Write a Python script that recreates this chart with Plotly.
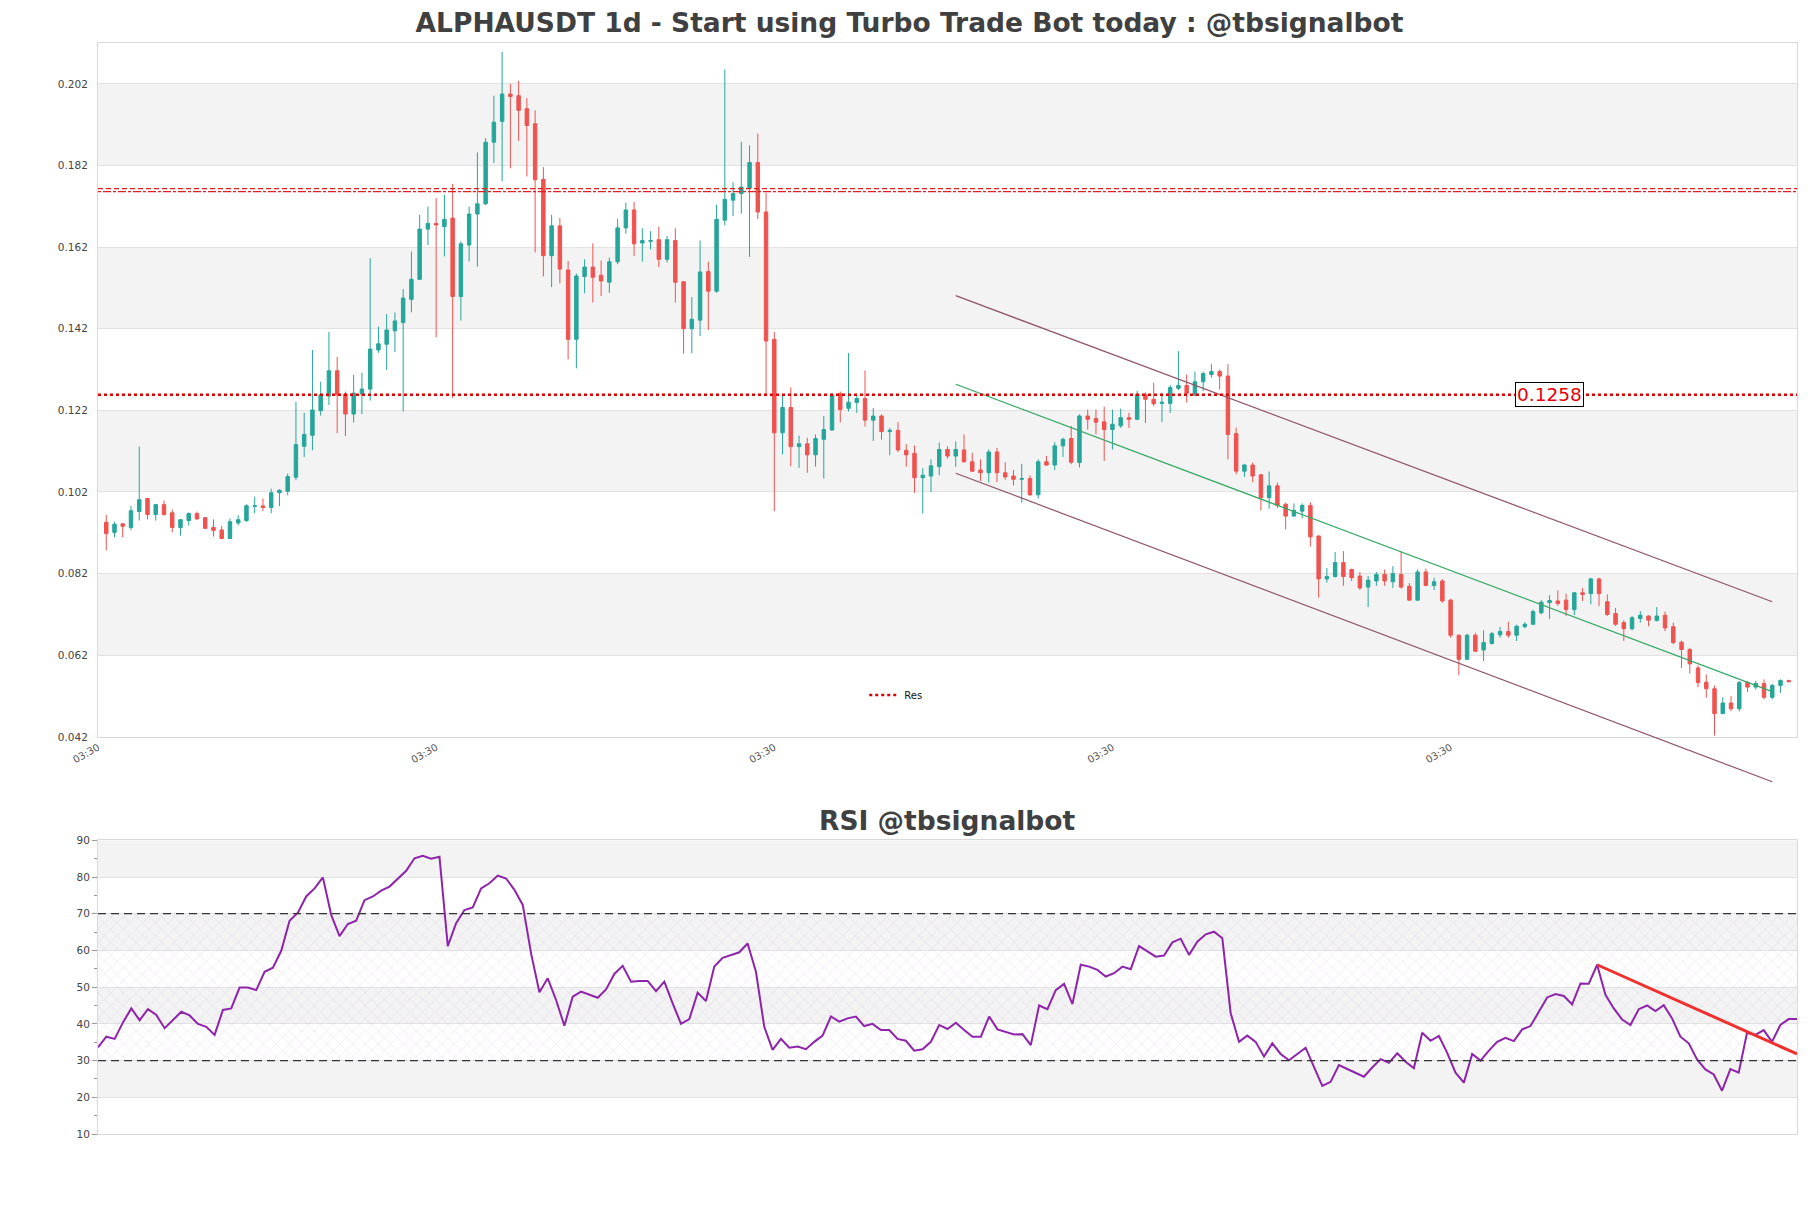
import pandas as pd
import plotly.graph_objects as go

# ---- data --------------------------------------------------------------
start_date = "2024-01-20 03:30"

opens = [
    0.0946, 0.0921, 0.0942, 0.0933, 0.0972, 0.1004, 0.0965, 0.0989, 0.0969, 0.0933,
    0.0950, 0.0967, 0.0957, 0.0933, 0.0927, 0.0906, 0.0944, 0.0950, 0.0985, 0.0986,
    0.0982, 0.1018, 0.1022, 0.1056, 0.1132, 0.1159, 0.1219, 0.1255, 0.1317, 0.1260,
    0.1211, 0.1260, 0.1272, 0.1368, 0.1382, 0.1415, 0.1435, 0.1492, 0.1541, 0.1664,
    0.1678, 0.1670, 0.1691, 0.1499, 0.1625, 0.1701, 0.1726, 0.1877, 0.1928, 0.1995,
    0.1991, 0.1959, 0.1922, 0.1786, 0.1599, 0.1672, 0.1564, 0.1394, 0.1548, 0.1571,
    0.1551, 0.1534, 0.1584, 0.1667, 0.1711, 0.1630, 0.1634, 0.1638, 0.1590, 0.1636,
    0.1535, 0.1420, 0.1441, 0.1560, 0.1512, 0.1686, 0.1735, 0.1751, 0.1765, 0.1827,
    0.1706, 0.1394, 0.1165, 0.1227, 0.1131, 0.1138, 0.1111, 0.1149, 0.1172, 0.1261,
    0.1225, 0.1239, 0.1249, 0.1196, 0.1206, 0.1168, 0.1171, 0.1122, 0.1115, 0.1055,
    0.1059, 0.1082, 0.1124, 0.1108, 0.1123, 0.1094, 0.1074, 0.1067, 0.1118, 0.1067,
    0.1059, 0.1051, 0.1053, 0.1013, 0.1094, 0.1086, 0.1133, 0.1151, 0.1092, 0.1206,
    0.1200, 0.1192, 0.1173, 0.1182, 0.1202, 0.1198, 0.1258, 0.1247, 0.1237, 0.1237,
    0.1274, 0.1281, 0.1257, 0.1290, 0.1308, 0.1315, 0.1304, 0.1163, 0.1071, 0.1086,
    0.1062, 0.1006, 0.1035, 0.0990, 0.0961, 0.0973, 0.0987, 0.0912, 0.0807, 0.0813,
    0.0847, 0.0830, 0.0814, 0.0787, 0.0802, 0.0818, 0.0800, 0.0818, 0.0789, 0.0755,
    0.0824, 0.0791, 0.0802, 0.0755, 0.0669, 0.0610, 0.0669, 0.0633, 0.0649, 0.0670,
    0.0678, 0.0669, 0.0690, 0.0696, 0.0724, 0.0749, 0.0753, 0.0755, 0.0732, 0.0773,
    0.0771, 0.0807, 0.0751, 0.0722, 0.0700, 0.0685, 0.0710, 0.0716, 0.0705, 0.0718,
    0.0690, 0.0652, 0.0634, 0.0589, 0.0554, 0.0538, 0.0477, 0.0503, 0.0489, 0.0553,
    0.0542, 0.0551, 0.0517, 0.0546, 0.0558,
]
highs = [
    0.0964, 0.0947, 0.0943, 0.0986, 0.1131, 0.1005, 0.0991, 0.0999, 0.0977, 0.0953,
    0.0970, 0.0972, 0.0959, 0.0953, 0.0937, 0.0955, 0.0963, 0.0990, 0.1009, 0.1004,
    0.1028, 0.1027, 0.1065, 0.1241, 0.1214, 0.1368, 0.1290, 0.1412, 0.1351, 0.1266,
    0.1307, 0.1312, 0.1593, 0.1425, 0.1456, 0.1460, 0.1517, 0.1609, 0.1699, 0.1719,
    0.1740, 0.1748, 0.1775, 0.1634, 0.1719, 0.1852, 0.1887, 0.1991, 0.2098, 0.2020,
    0.2027, 0.1985, 0.1955, 0.1816, 0.1699, 0.1691, 0.1586, 0.1555, 0.1590, 0.1629,
    0.1587, 0.1594, 0.1689, 0.1729, 0.1731, 0.1666, 0.1659, 0.1670, 0.1647, 0.1666,
    0.1536, 0.1498, 0.1636, 0.1584, 0.1724, 0.2055, 0.1779, 0.1878, 0.1869, 0.1898,
    0.1753, 0.1412, 0.1259, 0.1276, 0.1158, 0.1153, 0.1161, 0.1206, 0.1263, 0.1266,
    0.1360, 0.1255, 0.1318, 0.1226, 0.1210, 0.1177, 0.1191, 0.1137, 0.1134, 0.1078,
    0.1100, 0.1141, 0.1132, 0.1144, 0.1161, 0.1116, 0.1100, 0.1124, 0.1128, 0.1093,
    0.1074, 0.1089, 0.1061, 0.1100, 0.1108, 0.1142, 0.1153, 0.1182, 0.1210, 0.1222,
    0.1222, 0.1229, 0.1222, 0.1224, 0.1214, 0.1267, 0.1264, 0.1288, 0.1263, 0.1282,
    0.1365, 0.1308, 0.1315, 0.1315, 0.1333, 0.1320, 0.1333, 0.1178, 0.1089, 0.1092,
    0.1064, 0.1070, 0.1043, 0.0994, 0.0992, 0.0992, 0.0995, 0.0914, 0.0834, 0.0873,
    0.0875, 0.0832, 0.0824, 0.0814, 0.0824, 0.0830, 0.0838, 0.0875, 0.0797, 0.0830,
    0.0832, 0.0810, 0.0806, 0.0758, 0.0671, 0.0673, 0.0675, 0.0681, 0.0677, 0.0689,
    0.0702, 0.0695, 0.0701, 0.0732, 0.0755, 0.0767, 0.0779, 0.0771, 0.0775, 0.0785,
    0.0810, 0.0810, 0.0769, 0.0736, 0.0706, 0.0716, 0.0728, 0.0718, 0.0738, 0.0727,
    0.0700, 0.0656, 0.0638, 0.0595, 0.0573, 0.0546, 0.0517, 0.0520, 0.0557, 0.0557,
    0.0557, 0.0561, 0.0550, 0.0561, 0.0560,
]
lows = [
    0.0877, 0.0909, 0.0909, 0.0926, 0.0950, 0.0953, 0.0950, 0.0962, 0.0921, 0.0913,
    0.0938, 0.0952, 0.0929, 0.0911, 0.0904, 0.0905, 0.0938, 0.0947, 0.0968, 0.0973,
    0.0968, 0.0985, 0.1012, 0.1049, 0.1106, 0.1122, 0.1207, 0.1233, 0.1164, 0.1157,
    0.1190, 0.1211, 0.1244, 0.1361, 0.1319, 0.1363, 0.1217, 0.1460, 0.1540, 0.1625,
    0.1399, 0.1597, 0.1250, 0.1440, 0.1585, 0.1572, 0.1723, 0.1826, 0.1781, 0.1813,
    0.1880, 0.1793, 0.1607, 0.1548, 0.1522, 0.1531, 0.1345, 0.1323, 0.1507, 0.1484,
    0.1500, 0.1508, 0.1578, 0.1653, 0.1598, 0.1584, 0.1614, 0.1571, 0.1582, 0.1484,
    0.1359, 0.1360, 0.1402, 0.1417, 0.1508, 0.1673, 0.1696, 0.1702, 0.1596, 0.1689,
    0.1259, 0.0973, 0.1112, 0.1083, 0.1079, 0.1067, 0.1082, 0.1053, 0.1170, 0.1190,
    0.1217, 0.1214, 0.1180, 0.1145, 0.1148, 0.1110, 0.1118, 0.1082, 0.1018, 0.0967,
    0.1020, 0.1061, 0.1102, 0.1082, 0.1092, 0.1069, 0.1047, 0.1043, 0.1044, 0.1050,
    0.1036, 0.0994, 0.1010, 0.1004, 0.1085, 0.1074, 0.1106, 0.1088, 0.1080, 0.1173,
    0.1161, 0.1096, 0.1124, 0.1177, 0.1177, 0.1196, 0.1189, 0.1230, 0.1191, 0.1214,
    0.1270, 0.1239, 0.1255, 0.1267, 0.1300, 0.1271, 0.1100, 0.1063, 0.1057, 0.1044,
    0.0975, 0.0979, 0.0981, 0.0928, 0.0959, 0.0955, 0.0886, 0.0761, 0.0798, 0.0810,
    0.0790, 0.0802, 0.0780, 0.0738, 0.0790, 0.0790, 0.0785, 0.0783, 0.0753, 0.0753,
    0.0789, 0.0780, 0.0749, 0.0663, 0.0571, 0.0608, 0.0628, 0.0606, 0.0646, 0.0663,
    0.0663, 0.0655, 0.0686, 0.0694, 0.0720, 0.0709, 0.0741, 0.0716, 0.0718, 0.0753,
    0.0745, 0.0740, 0.0716, 0.0692, 0.0655, 0.0681, 0.0700, 0.0691, 0.0703, 0.0679,
    0.0647, 0.0589, 0.0575, 0.0542, 0.0516, 0.0423, 0.0476, 0.0483, 0.0483, 0.0530,
    0.0536, 0.0512, 0.0512, 0.0528, 0.0554,
]
closes = [
    0.0918, 0.0941, 0.0936, 0.0974, 0.1001, 0.0965, 0.0989, 0.0965, 0.0933, 0.0952,
    0.0967, 0.0954, 0.0931, 0.0926, 0.0906, 0.0947, 0.0952, 0.0986, 0.0986, 0.0982,
    0.1018, 0.1024, 0.1058, 0.1136, 0.1161, 0.1221, 0.1258, 0.1317, 0.1258, 0.1211,
    0.1262, 0.1272, 0.1370, 0.1383, 0.1417, 0.1439, 0.1495, 0.1541, 0.1664, 0.1678,
    0.1674, 0.1688, 0.1499, 0.1628, 0.1701, 0.1726, 0.1877, 0.1926, 0.1995, 0.1989,
    0.1955, 0.1918, 0.1785, 0.1599, 0.1672, 0.1566, 0.1394, 0.1549, 0.1571, 0.1546,
    0.1537, 0.1584, 0.1667, 0.1711, 0.1628, 0.1636, 0.1636, 0.1590, 0.1638, 0.1534,
    0.1420, 0.1443, 0.1559, 0.1512, 0.1688, 0.1737, 0.1751, 0.1767, 0.1827, 0.1706,
    0.1390, 0.1165, 0.1227, 0.1131, 0.1138, 0.1111, 0.1151, 0.1173, 0.1258, 0.1222,
    0.1240, 0.1249, 0.1196, 0.1206, 0.1168, 0.1171, 0.1123, 0.1111, 0.1055, 0.1061,
    0.1084, 0.1124, 0.1108, 0.1124, 0.1094, 0.1071, 0.1067, 0.1118, 0.1067, 0.1057,
    0.1051, 0.1053, 0.1013, 0.1094, 0.1086, 0.1133, 0.1149, 0.1093, 0.1206, 0.1198,
    0.1191, 0.1173, 0.1186, 0.1202, 0.1198, 0.1259, 0.1247, 0.1236, 0.1240, 0.1276,
    0.1281, 0.1262, 0.1290, 0.1310, 0.1315, 0.1304, 0.1161, 0.1071, 0.1086, 0.1059,
    0.1006, 0.1035, 0.0987, 0.0961, 0.0975, 0.0987, 0.0910, 0.0807, 0.0813, 0.0847,
    0.0813, 0.0810, 0.0785, 0.0804, 0.0818, 0.0802, 0.0820, 0.0787, 0.0755, 0.0824,
    0.0791, 0.0800, 0.0753, 0.0669, 0.0610, 0.0669, 0.0630, 0.0651, 0.0673, 0.0678,
    0.0669, 0.0691, 0.0696, 0.0727, 0.0750, 0.0754, 0.0747, 0.0732, 0.0773, 0.0769,
    0.0807, 0.0771, 0.0720, 0.0696, 0.0685, 0.0712, 0.0718, 0.0706, 0.0716, 0.0687,
    0.0651, 0.0634, 0.0599, 0.0553, 0.0538, 0.0477, 0.0503, 0.0489, 0.0553, 0.0542,
    0.0551, 0.0517, 0.0546, 0.0558, 0.0555,
]

rsi = [
    33.6, 36.5, 35.9, 40.4, 44.2, 41.0, 44.0, 42.4, 38.8, 41.2,
    43.3, 42.3, 40.0, 39.2, 37.0, 43.8, 44.2, 49.9, 49.9, 49.2,
    54.2, 55.3, 59.9, 68.1, 70.3, 74.7, 76.9, 79.9, 69.7, 63.9,
    67.2, 68.1, 73.7, 74.7, 76.3, 77.4, 79.6, 81.7, 85.1, 85.8,
    85.0, 85.5, 61.2, 67.4, 71.0, 71.7, 76.9, 78.3, 80.4, 79.6,
    76.5, 72.4, 59.2, 48.6, 52.4, 46.5, 39.5, 47.4, 48.8, 47.9,
    47.1, 49.4, 53.6, 55.8, 51.5, 51.7, 51.7, 48.9, 51.5, 45.6,
    40.0, 41.3, 48.5, 46.2, 55.6, 58.0, 58.8, 59.5, 61.9, 54.2,
    39.2, 32.9, 35.9, 33.5, 33.8, 33.1, 35.1, 36.8, 42.0, 40.6,
    41.5, 42.0, 39.4, 40.0, 38.3, 38.3, 35.9, 35.4, 32.7, 33.1,
    35.1, 39.7, 38.6, 40.3, 38.3, 36.5, 36.5, 42.0, 38.5, 37.7,
    37.1, 37.2, 34.2, 45.0, 44.0, 49.2, 50.9, 45.4, 56.1, 55.6,
    54.7, 52.9, 53.8, 55.6, 54.9, 61.2, 59.7, 58.3, 58.6, 62.2,
    63.2, 58.8, 62.4, 64.4, 65.1, 63.3, 42.9, 35.1, 36.8, 35.1,
    31.1, 34.7, 31.8, 30.1, 31.8, 33.5, 28.3, 23.1, 24.2, 28.8,
    27.7, 26.7, 25.6, 28.1, 30.4, 29.4, 32.0, 29.7, 27.9, 37.6,
    35.4, 36.7, 32.1, 26.7, 24.0, 31.8, 30.0, 32.7, 35.1, 36.2,
    35.3, 38.5, 39.4, 43.3, 47.2, 48.1, 47.6, 45.3, 51.0, 50.9,
    56.1, 47.9, 44.2, 41.2, 39.7, 44.0, 45.0, 43.5, 45.1, 41.5,
    36.5, 34.7, 30.3, 27.6, 26.2, 21.8, 27.7, 26.7, 37.6, 37.0,
    38.3, 35.1, 39.7, 41.3, 41.3,
]

# price channel (candle index -> price at the two ends)
channel_idx = [103, 202]
channel_upper = [0.1501, 0.0751]
channel_mid = [0.1284, 0.0531]
channel_lower = [0.1066, 0.0310]

res_level = 0.1258
res_label_idx = 175
upper_levels = [0.1763, 0.1756]

rsi_trend_idx = [180, 204]
rsi_trend_val = [56.1, 31.8]

price_ticks = [0.042, 0.062, 0.082, 0.102, 0.122, 0.142, 0.162, 0.182, 0.202]
price_bands = [(0.062, 0.082), (0.102, 0.122), (0.142, 0.162), (0.182, 0.202)]
rsi_bands = [(20, 30), (40, 50), (60, 70), (80, 90)]

# ---- styling -----------------------------------------------------------
UP = "#26a69a"
DOWN = "#ef5350"
BAND = "#f3f3f3"
GRID = "#e2e2e2"
FRAME = "#d9d9d9"
FONT = "DejaVu Sans"

# the page body adds 8px around the figure, so the figure is 8px smaller
W, H = 1803, 1200

dates = pd.date_range(start_date, periods=len(closes), freq="D")
day = pd.Timedelta(days=1)
tick_dates = [dates[0] - day + pd.Timedelta(days=41 * k) for k in range(5)]

y_lo, y_hi = 0.042, 0.212
main_dom = [0.364, 1.0]
# overlay axis for the channel so the lower line can run past the x axis
y3_lo = 0.028
y3_bottom = main_dom[0] - (y_lo - y3_lo) / (y_hi - y_lo) * (main_dom[1] - main_dom[0])

fig = go.Figure()

fig.add_trace(go.Candlestick(
    x=dates, open=opens, high=highs, low=lows, close=closes,
    increasing=dict(line=dict(color=UP, width=1), fillcolor=UP),
    decreasing=dict(line=dict(color=DOWN, width=1), fillcolor=DOWN),
    whiskerwidth=0, showlegend=False, xaxis="x", yaxis="y",
))

ch_x = [dates[i] for i in channel_idx]
for vals, color in [(channel_upper, "#8e5468"), (channel_lower, "#8e5468"), (channel_mid, "#35a865")]:
    fig.add_trace(go.Scatter(
        x=ch_x, y=vals, mode="lines", line=dict(color=color, width=1.2),
        showlegend=False, hoverinfo="skip", xaxis="x3", yaxis="y3",
    ))

# RSI: hatched 30-70 zone, the line and the trend line
for lvl, fill in [(30, None), (70, "tonexty")]:
    fig.add_trace(go.Scatter(
        x=[dates[0], dates[-1]], y=[lvl, lvl], mode="lines", line=dict(width=0),
        fill=fill, fillcolor="rgba(0,0,0,0)",
        fillpattern=dict(shape="x", fgcolor="#b9a6cc", bgcolor="rgba(0,0,0,0)", size=9, solidity=0.08),
        showlegend=False, hoverinfo="skip", xaxis="x2", yaxis="y2",
    ))
fig.add_trace(go.Scatter(
    x=dates, y=rsi, mode="lines", line=dict(color="#8e24aa", width=2),
    showlegend=False, xaxis="x2", yaxis="y2",
))
fig.add_trace(go.Scatter(
    x=[dates[i] for i in rsi_trend_idx], y=rsi_trend_val, mode="lines",
    line=dict(color="#f0302c", width=3), showlegend=False, xaxis="x2", yaxis="y2",
))

shapes = []
for lo, hi in price_bands:
    shapes.append(dict(type="rect", xref="x domain", yref="y", x0=0, x1=1, y0=lo, y1=hi,
                       fillcolor=BAND, line=dict(width=0), layer="below"))
for lo, hi in rsi_bands:
    shapes.append(dict(type="rect", xref="x2 domain", yref="y2", x0=0, x1=1, y0=lo, y1=hi,
                       fillcolor=BAND, line=dict(width=0), layer="below"))
for lvl in [70, 30]:
    shapes.append(dict(type="line", xref="x2 domain", yref="y2", x0=0, x1=1, y0=lvl, y1=lvl,
                       line=dict(color="#333333", width=1.2, dash="8px,5px")))
shapes.append(dict(type="line", xref="x domain", yref="y", x0=0, x1=1, y0=upper_levels[0], y1=upper_levels[0],
                   line=dict(color="#e02020", width=1.3, dash="5px,3px")))
shapes.append(dict(type="line", xref="x domain", yref="y", x0=0, x1=1, y0=upper_levels[1], y1=upper_levels[1],
                   line=dict(color="#e02020", width=1.3, dash="3px,2px,8px,2px")))
shapes.append(dict(type="line", xref="x domain", yref="y", x0=0, x1=1, y0=res_level, y1=res_level,
                   line=dict(color="#e00000", width=2.5, dash="dot"),
                   showlegend=True, name="Res"))

axis_common = dict(showline=True, linecolor=FRAME, linewidth=1, mirror=True, zeroline=False)

fig.update_layout(
    width=W, height=H,
    paper_bgcolor="white", plot_bgcolor="rgba(0,0,0,0)",
    margin=dict(l=90, r=14, t=35, b=74),
    font=dict(family=FONT, size=10, color="#444444"),
    title=dict(text="ALPHAUSDT 1d - Start using Turbo Trade Bot today : @tbsignalbot",
               x=0.5, xanchor="center", y=1 - 15 / H, yanchor="middle",
               font=dict(family=FONT, size=26.5, color="#404040", weight="bold")),
    boxgap=0.4,
    shapes=shapes,
    showlegend=True,
    legend=dict(x=0.451, y=0.4024, xanchor="left", yanchor="middle",
                bgcolor="rgba(0,0,0,0)", font=dict(size=10, color="#111111")),
    xaxis=dict(domain=[0, 1], anchor="y", type="date",
               range=[dates[0] - day, dates[-1] + day],
               tickvals=tick_dates, tickformat="%H:%M", tickangle=-30,
               tickfont=dict(size=10, color="#555555"),
               showgrid=False, rangeslider=dict(visible=False), **axis_common),
    yaxis=dict(domain=main_dom, anchor="x", range=[y_lo, y_hi],
               tickvals=price_ticks, tickformat=".3f",
               ticks="outside", ticklen=7, tickcolor="rgba(0,0,0,0)",
               tickfont=dict(size=10.5, color="#444444"),
               showgrid=True, gridcolor=GRID, **axis_common),
    xaxis2=dict(domain=[0, 1], anchor="y2", type="date", range=[dates[0], dates[-1]],
                showticklabels=False, showgrid=False, **axis_common),
    yaxis2=dict(domain=[0, 0.2692], anchor="x2", range=[10, 90], dtick=10,
                ticks="outside", ticklen=5, tickcolor="#999999",
                minor=dict(ticks="outside", ticklen=3, dtick=5, tickcolor="#999999", showgrid=False),
                tickfont=dict(size=10.5, color="#444444"),
                showgrid=True, gridcolor=GRID, **axis_common),
    xaxis3=dict(domain=[0, 1], anchor="y3", type="date",
                range=[dates[0] - day, dates[-1] + day], visible=False),
    yaxis3=dict(domain=[y3_bottom, 1.0], anchor="x3", range=[y3_lo, y_hi], visible=False),
    annotations=[
        dict(x=dates[res_label_idx], y=res_level, xref="x", yref="y", text="0.1258",
             showarrow=False, font=dict(family=FONT, size=18.5, color="#e8000b"),
             bgcolor="white", bordercolor="black", borderwidth=1, borderpad=1),
        dict(x=0.5, y=(1134 - 820) / 1091, xref="paper", yref="paper", text="RSI @tbsignalbot",
             showarrow=False, xanchor="center", yanchor="middle",
             font=dict(family=FONT, size=26.5, color="#404040", weight="bold")),
    ],
)

fig.write_html("out.html")
